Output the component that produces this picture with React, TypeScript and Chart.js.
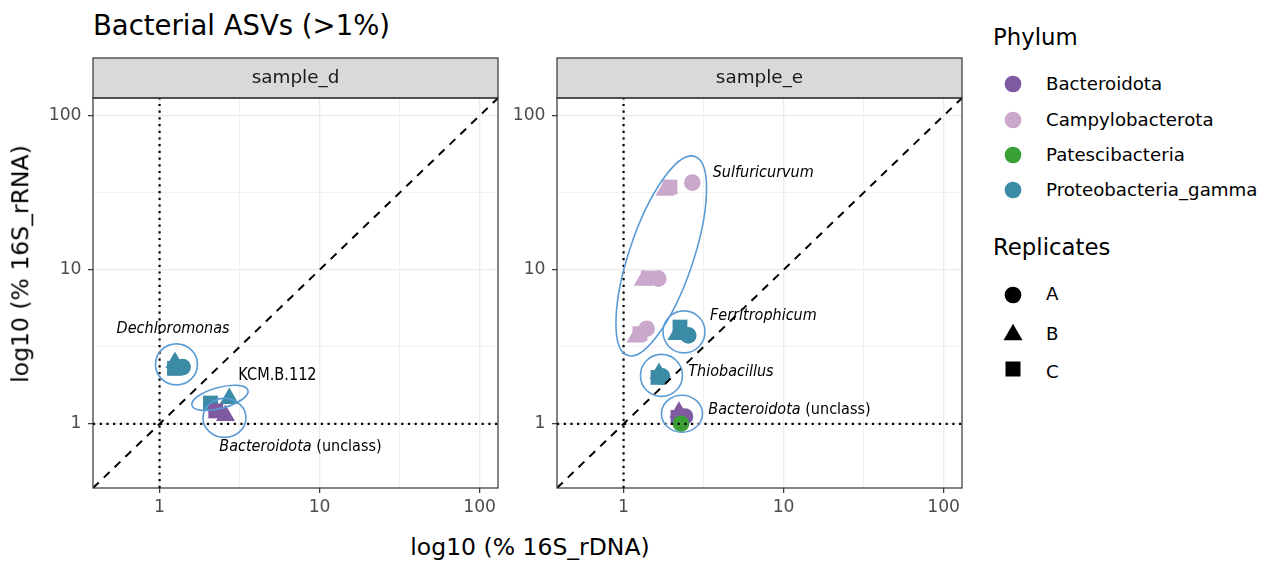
import React, { useEffect, useRef } from "react";
import { Chart, registerables } from "chart.js";

Chart.register(...registerables);

const FONT = '"DejaVu Sans", Verdana, sans-serif';

// ---------- categories ----------
const PHYLA = ["Bacteroidota", "Campylobacterota", "Patescibacteria", "Proteobacteria_gamma"];
const PHYLUM_COLORS = ["#7F5AA0", "#CAA8CC", "#3AA036", "#3B8BA7"];
const REPLICATES = ["A", "B", "C"];
const REPLICATE_SHAPES = ["circle", "triangle", "rect"];
const PANELS = ["sample_d", "sample_e"];

// ---------- axes ----------
const AXIS_MIN = 0.3837;
const AXIS_MAX = 130.3;
const GRID_VALUES = [1, 3.1623, 10, 31.623, 100];
const TICK_LABELS = ["1", "", "10", "", "100"];

// ---------- sample_d ----------
const D_DNA = [1.239, 1.394, 1.248, 2.08, 2.727, 2.245, 2.581];
const D_RNA = [2.292, 2.337, 2.506, 1.365, 1.464, 1.214, 1.132];
const D_PHYLUM = [3, 3, 3, 3, 3, 0, 0];
const D_REP = [2, 0, 1, 2, 1, 2, 1];

// ---------- sample_e ----------
const E_DNA = [2.688, 1.95, 1.814, 1.328, 1.427, 1.648, 1.195, 1.266, 1.394, 2.157, 2.252, 2.537, 1.641, 1.738, 1.664, 2.188, 2.42, 2.219, 2.285];
const E_RNA = [36.78, 34.43, 32.78, 8.54, 8.84, 8.76, 3.66, 3.849, 4.149, 3.81, 4.249, 3.753, 2.003, 2.034, 2.127, 1.102, 1.118, 1.188, 1.003];
const E_PHYLUM = [1, 1, 1, 1, 1, 1, 1, 1, 1, 3, 3, 3, 3, 3, 3, 0, 0, 0, 2];
const E_REP = [0, 2, 1, 1, 2, 0, 1, 2, 0, 1, 2, 0, 2, 0, 1, 2, 0, 1, 0];

// ---------- annotations (genus marks) ----------
const D_NOTES = {
  ellipses: [
    { x: 1.275, y: 2.433, rx: 21, ry: 20.5, rot: 0 },
    { x: 2.385, y: 1.475, rx: 29, ry: 10.5, rot: -15 },
    { x: 2.545, y: 1.094, rx: 21.5, ry: 19.5, rot: 0 },
  ],
  labels: [
    { x: 0.539, y: 4.106, size: 15.5, sx: 0.93, parts: [["Dechloromonas", true]] },
    { x: 3.104, y: 2.064, size: 17.5, sx: 0.83, parts: [["KCM.B.112", false]] },
    { x: 2.362, y: 0.709, size: 15.5, sx: 0.93, parts: [["Bacteroidota", true], [" (unclass)", false]] },
  ],
};
const E_NOTES = {
  ellipses: [
    { x: 1.72, y: 12.31, rx: 105, ry: 32, rot: -71.3 },
    { x: 2.385, y: 3.956, rx: 21, ry: 21, rot: 0 },
    { x: 1.725, y: 2.064, rx: 21, ry: 21, rot: 0 },
    { x: 2.317, y: 1.165, rx: 20.5, ry: 18.5, rot: 0 },
  ],
  labels: [
    { x: 3.604, y: 42.6, size: 15.5, sx: 0.93, parts: [["Sulfuricurvum", true]] },
    { x: 3.467, y: 4.985, size: 15.5, sx: 0.93, parts: [["Ferritrophicum", true]] },
    { x: 2.537, y: 2.159, size: 15.5, sx: 0.93, parts: [["Thiobacillus", true]] },
    { x: 3.384, y: 1.224, size: 15.5, sx: 0.93, parts: [["Bacteroidota", true], [" (unclass)", false]] },
  ],
};

const SHAPE_RADIUS: Record<string, number> = { circle: 8.3, triangle: 11, rect: 10.5 };

function makeChart(canvas: HTMLCanvasElement, panel: number) {
  const xs = panel === 0 ? D_DNA : E_DNA;
  const ys = panel === 0 ? D_RNA : E_RNA;
  const ph = panel === 0 ? D_PHYLUM : E_PHYLUM;
  const rep = panel === 0 ? D_REP : E_REP;
  const notes = panel === 0 ? D_NOTES : E_NOTES;

  const overlay = {
    id: "overlay" + panel,
    afterDatasetsDraw(chart: any) {
      const { ctx, chartArea: a } = chart;
      const x = chart.scales.x;
      const y = chart.scales.y;
      ctx.save();
      ctx.beginPath();
      ctx.rect(a.left, a.top, a.right - a.left, a.bottom - a.top);
      ctx.clip();
      // reference lines
      ctx.strokeStyle = "#000";
      ctx.lineWidth = 2.2;
      ctx.setLineDash([2.2, 4.5]);
      const x1 = x.getPixelForValue(1);
      const y1 = y.getPixelForValue(1);
      ctx.beginPath();
      ctx.moveTo(x1, a.bottom);
      ctx.lineTo(x1, a.top);
      ctx.stroke();
      ctx.beginPath();
      ctx.moveTo(a.left, y1);
      ctx.lineTo(a.right, y1);
      ctx.stroke();
      ctx.lineWidth = 2;
      ctx.setLineDash([8, 7]);
      ctx.beginPath();
      ctx.moveTo(x.getPixelForValue(AXIS_MIN), y.getPixelForValue(AXIS_MIN));
      ctx.lineTo(x.getPixelForValue(AXIS_MAX), y.getPixelForValue(AXIS_MAX));
      ctx.stroke();
      // ellipses
      ctx.setLineDash([]);
      ctx.strokeStyle = "#5B9BD5";
      ctx.lineWidth = 1.6;
      for (const e of notes.ellipses) {
        ctx.beginPath();
        ctx.ellipse(x.getPixelForValue(e.x), y.getPixelForValue(e.y), e.rx, e.ry, (e.rot * Math.PI) / 180, 0, Math.PI * 2);
        ctx.stroke();
      }
      ctx.restore();
      // labels
      for (const l of notes.labels) {
        ctx.save();
        ctx.fillStyle = "#000";
        ctx.textBaseline = "middle";
        ctx.textAlign = "left";
        ctx.translate(x.getPixelForValue(l.x), y.getPixelForValue(l.y));
        ctx.scale(l.sx, 1);
        let px = 0;
        for (const [t, it] of l.parts as [string, boolean][]) {
          ctx.font = `${it ? "italic " : ""}${l.size}px ${FONT}`;
          ctx.fillText(t, px, 0);
          px += ctx.measureText(t).width;
        }
        ctx.restore();
      }
    },
    afterDraw(chart: any) {
      const { ctx, chartArea: a } = chart;
      const w = a.right - a.left;
      const h = a.bottom - a.top;
      ctx.save();
      const top = a.top - 40;
      ctx.fillStyle = "#D9D9D9";
      ctx.fillRect(a.left, top, w, 40);
      ctx.strokeStyle = "#333333";
      ctx.lineWidth = 1.2;
      ctx.strokeRect(a.left, top, w, 40);
      ctx.strokeRect(a.left, a.top, w, h);
      ctx.fillStyle = "#1A1A1A";
      ctx.font = `18.4px ${FONT}`;
      ctx.textAlign = "center";
      ctx.textBaseline = "middle";
      ctx.fillText(PANELS[panel], (a.left + a.right) / 2, top + 20);
      ctx.restore();
    },
  };

  const axis = (isX: boolean) => ({
    type: "logarithmic" as const,
    min: AXIS_MIN,
    max: AXIS_MAX,
    afterBuildTicks: (s: any) => {
      s.ticks = GRID_VALUES.map((v) => ({ value: v }));
    },
    afterFit: (s: any) => {
      if (isX) s.height = 42;
      else s.width = 63;
    },
    ticks: {
      autoSkip: false,
      maxRotation: 0,
      minRotation: 0,
      padding: isX ? 4.5 : 6.5,
      color: "#4D4D4D",
      font: { family: FONT, size: 17.2 },
      callback: (_v: any, i: number) => TICK_LABELS[i],
    },
    grid: {
      color: "#EBEBEB",
      lineWidth: (c: any) => (c.index % 2 ? 0.7 : 1.3),
      tickLength: 5,
      tickWidth: 1.2,
      tickColor: (c: any) => (c.index % 2 ? "rgba(0,0,0,0)" : "#333333"),
    },
    border: { display: false },
  });

  return new Chart(canvas, {
    type: "scatter",
    data: {
      datasets: [
        {
          data: xs.map((v, i) => ({ x: v, y: ys[i] })),
          pointStyle: (c: any) => REPLICATE_SHAPES[rep[c.dataIndex]] as any,
          pointRadius: (c: any) => SHAPE_RADIUS[REPLICATE_SHAPES[rep[c.dataIndex]]],
          backgroundColor: (c: any) => PHYLUM_COLORS[ph[c.dataIndex]],
          borderWidth: 0,
          showLine: false,
        } as any,
      ],
    },
    options: {
      responsive: false,
      maintainAspectRatio: false,
      animation: false,
      events: [],
      layout: { padding: { top: 48, right: 12, left: 0, bottom: 0 } },
      plugins: { legend: { display: false }, tooltip: { enabled: false } },
      scales: { x: axis(true), y: axis(false) } as any,
    },
    plugins: [overlay],
  });
}

function Panel({ idx, left }: { idx: number; left: number }) {
  const ref = useRef<HTMLCanvasElement>(null);
  useEffect(() => {
    const c = makeChart(ref.current!, idx);
    return () => c.destroy();
  }, [idx]);
  return (
    <canvas
      ref={ref}
      width={480}
      height={480}
      style={{ position: "absolute", left, top: 50, width: 480, height: 480 }}
    />
  );
}

const txt = (size: number, extra: any = {}) => ({
  position: "absolute" as const,
  fontFamily: FONT,
  fontSize: size,
  lineHeight: 1,
  whiteSpace: "nowrap" as const,
  color: "#000",
  ...extra,
});

function Shape({ shape, color, cx, cy }: { shape: string; color: string; cx: number; cy: number }) {
  let el;
  if (shape === "circle") el = <circle cx={12} cy={12} r={8.35} fill={color} />;
  else if (shape === "triangle")
    el = <polygon points={`12,${12 - 11 + 2.75} ${12 + 9.53},${12 + 5.5 + 2.75} ${12 - 9.53},${12 + 5.5 + 2.75}`} fill={color} />;
  else el = <rect x={12 - 7.5} y={12 - 7.5} width={15} height={15} fill={color} />;
  return (
    <svg width={24} height={24} style={{ position: "absolute", left: cx - 12, top: cy - 12 }}>
      {el}
    </svg>
  );
}

const PHYLUM_ROWS = [84, 119.5, 155, 189.5];
const REP_SYMBOL_ROWS = [294.5, 332, 369];
const REP_LABEL_ROWS = [293.5, 333.5, 372];

export default function App() {
  return (
    <div style={{ position: "absolute", left: 0, top: 0, width: 1267, height: 562, background: "#fff", overflow: "hidden" }}>
      <div style={txt(27.5, { left: 93, top: 11.8 })}>Bacterial ASVs (&gt;1%)</div>
      <Panel idx={0} left={30} />
      <Panel idx={1} left={494} />
      <div style={txt(23.5, { left: 230, width: 600, top: 536, textAlign: "center" })}>log10 (% 16S_rDNA)</div>
      <div
        style={txt(23.5, {
          left: 20.5,
          top: 264,
          transform: "translate(-50%, -50%) rotate(-90deg)",
        })}
      >
        log10 (% 16S_rRNA)
      </div>
      <div style={txt(22.8, { left: 993, top: 26.3 })}>Phylum</div>
      {PHYLA.map((p, i) => (
        <React.Fragment key={p}>
          <Shape shape="circle" color={PHYLUM_COLORS[i]} cx={1013} cy={PHYLUM_ROWS[i]} />
          <div style={txt(18.2, { left: 1046, top: PHYLUM_ROWS[i] - 8.8 })}>{p}</div>
        </React.Fragment>
      ))}
      <div style={txt(22.8, { left: 993, top: 235.7 })}>Replicates</div>
      {REPLICATES.map((r, i) => (
        <React.Fragment key={r}>
          <Shape shape={REPLICATE_SHAPES[i]} color="#000" cx={1013} cy={REP_SYMBOL_ROWS[i]} />
          <div style={txt(18.2, { left: 1046, top: REP_LABEL_ROWS[i] - 8.8 })}>{r}</div>
        </React.Fragment>
      ))}
    </div>
  );
}
